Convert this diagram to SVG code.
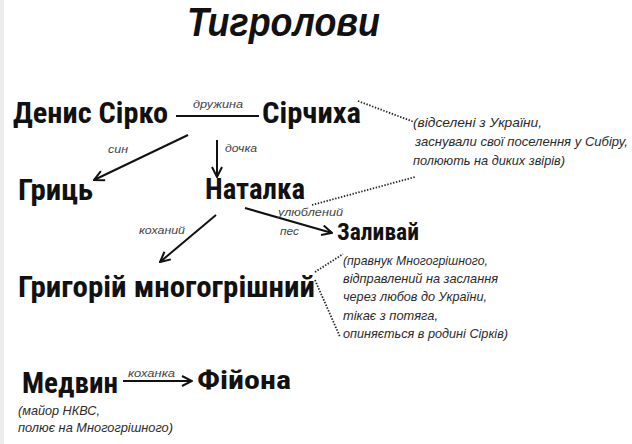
<svg xmlns="http://www.w3.org/2000/svg" width="632" height="444" viewBox="0 0 632 444">
<style>
.node{font-family:"Liberation Sans Narrow","Roboto Condensed","Liberation Sans",Arial,sans-serif;font-weight:bold;fill:#111;}
.lbl{font-family:"Liberation Sans Narrow","Liberation Sans",Arial,sans-serif;font-style:italic;font-size:11.5px;fill:#444;}
.note{font-family:"Liberation Sans Narrow","Liberation Sans",Arial,sans-serif;font-style:italic;font-size:13px;fill:#2a2a2a;}
.edge{stroke:#111;stroke-width:2;fill:none;}
.dot{stroke:#222;stroke-width:1.8;stroke-dasharray:1.4 1.6;fill:none;}
</style>
<defs>
<marker id="arr" viewBox="0 0 12 12" refX="11" refY="6" markerWidth="12" markerHeight="12" markerUnits="userSpaceOnUse" orient="auto">
<path d="M1,1 L11,6 L1,11" fill="none" stroke="#111" stroke-width="2"/>
</marker>
</defs>
<rect x="0" y="0" width="632" height="444" fill="#fff"/>
<rect x="0" y="0" width="4" height="444" fill="#ececec"/>
<text x="187" y="36" font-family="Liberation Sans,Arial,sans-serif" font-weight="bold" font-style="italic" font-size="40" fill="#111" textLength="193" lengthAdjust="spacingAndGlyphs">Тигролови</text>

<g id="connectors">
<line class="edge" x1="176" y1="116" x2="259" y2="116"/>
<line class="edge" x1="188" y1="135" x2="94" y2="180" marker-end="url(#arr)"/>
<line class="edge" x1="217" y1="140" x2="217" y2="177" marker-end="url(#arr)"/>
<line class="edge" x1="245" y1="208" x2="332" y2="233" marker-end="url(#arr)"/>
<line class="edge" x1="216" y1="215" x2="160" y2="262" marker-end="url(#arr)"/>
<line class="edge" x1="123" y1="381" x2="192" y2="381" marker-end="url(#arr)"/>
<line class="dot" x1="358" y1="101" x2="414" y2="122"/>
<line class="dot" x1="312" y1="205" x2="415" y2="177"/>
<line class="dot" x1="315" y1="272" x2="343" y2="254"/>
<line class="dot" x1="315" y1="280" x2="340" y2="337"/>
<text class="lbl" x="193" y="108" textLength="50" lengthAdjust="spacingAndGlyphs">дружина</text>
<text class="lbl" x="108" y="153" textLength="20" lengthAdjust="spacingAndGlyphs">син</text>
<text class="lbl" x="225" y="152" textLength="32" lengthAdjust="spacingAndGlyphs">дочка</text>
<text class="lbl" x="278" y="216" textLength="65" lengthAdjust="spacingAndGlyphs">улюблений</text>
<text class="lbl" x="280" y="235" textLength="19" lengthAdjust="spacingAndGlyphs">пес</text>
<text class="lbl" x="139" y="234" textLength="46" lengthAdjust="spacingAndGlyphs">коханий</text>
<text class="lbl" x="128" y="377" textLength="47" lengthAdjust="spacingAndGlyphs">коханка</text>
</g>

<g id="denys"><text class="node" x="13" y="123" font-size="29" textLength="155" lengthAdjust="spacingAndGlyphs">Денис Сірко</text></g>
<g id="sirchykha"><text class="node" x="262" y="123" font-size="29" textLength="99" lengthAdjust="spacingAndGlyphs">Сірчиха</text></g>
<g id="note-sirko">
<text class="note" x="413" y="127" textLength="129" lengthAdjust="spacingAndGlyphs">(відселені з України,</text>
<text class="note" x="415" y="146" textLength="213" lengthAdjust="spacingAndGlyphs">заснували свої поселення у Сибіру,</text>
<text class="note" x="413" y="165" textLength="152" lengthAdjust="spacingAndGlyphs">полюють на диких звірів)</text>
</g>
<g id="hryts"><text class="node" x="18" y="200" font-size="29" textLength="75" lengthAdjust="spacingAndGlyphs">Гриць</text></g>
<g id="natalka"><text class="node" x="205" y="199" font-size="29" textLength="100" lengthAdjust="spacingAndGlyphs">Наталка</text></g>
<g id="zalyvai"><text class="node" x="337" y="240" font-size="24" textLength="82" lengthAdjust="spacingAndGlyphs">Заливай</text></g>
<g id="hryhorii"><text class="node" x="18" y="297" font-size="29" textLength="297" lengthAdjust="spacingAndGlyphs">Григорій многогрішний</text></g>
<g id="note-hryhorii">
<text class="note" x="343" y="265" textLength="145" lengthAdjust="spacingAndGlyphs">(правнук Многогрішного,</text>
<text class="note" x="343" y="283" textLength="155" lengthAdjust="spacingAndGlyphs">відправлений на заслання</text>
<text class="note" x="343" y="301" textLength="144" lengthAdjust="spacingAndGlyphs">через любов до України,</text>
<text class="note" x="343" y="320" textLength="95" lengthAdjust="spacingAndGlyphs">тікає з потяга,</text>
<text class="note" x="343" y="338" textLength="165" lengthAdjust="spacingAndGlyphs">опиняється в родині Сірків)</text>
</g>
<g id="medvyn">
<text class="node" x="22" y="393" font-size="29" textLength="96" lengthAdjust="spacingAndGlyphs">Медвин</text>
<text class="note" x="18" y="415" textLength="82" lengthAdjust="spacingAndGlyphs">(майор НКВС,</text>
<text class="note" x="18" y="432" textLength="155" lengthAdjust="spacingAndGlyphs">полює на Многогрішного)</text>
</g>
<g id="fiiona"><text class="node" x="197" y="389" font-size="25" textLength="94" lengthAdjust="spacingAndGlyphs">Фійона</text></g>
</svg>
